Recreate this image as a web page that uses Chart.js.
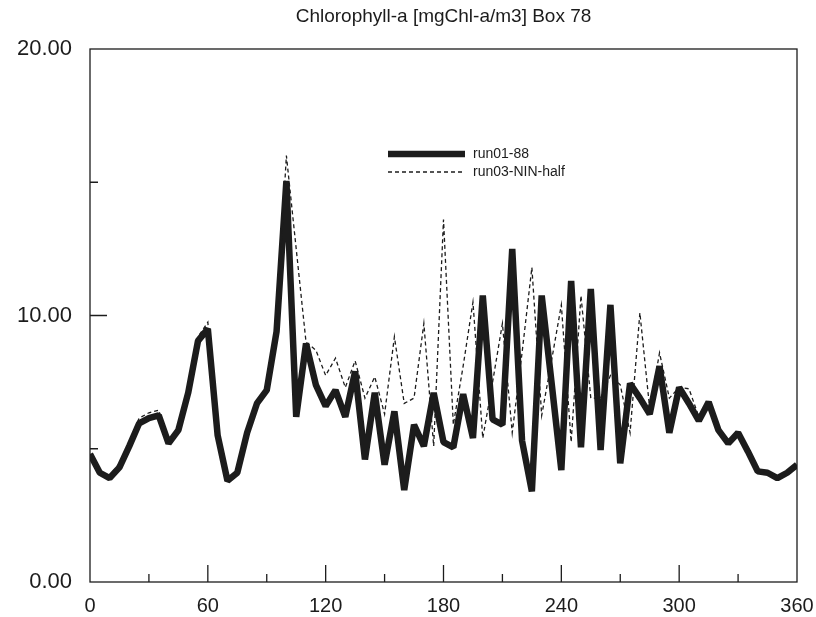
<!DOCTYPE html>
<html>
<head>
<meta charset="utf-8">
<title>Chlorophyll-a Box 78</title>
<script src="https://cdn.jsdelivr.net/npm/chart.js@4.4.1/dist/chart.umd.min.js"></script>
<style>
  html, body { margin: 0; padding: 0; background: #fff; }
  #wrap { width: 816px; height: 617px; }
</style>
</head>
<body>
<div id="wrap"><canvas id="chl"></canvas></div>
<script>
// day of year
var days = [0, 5, 10, 15, 20, 25, 30, 35, 40, 45, 50, 55, 60, 65, 70, 75, 80, 85, 90, 95,
  100, 105, 110, 115, 120, 125, 130, 135, 140, 145, 150, 155, 160, 165, 170, 175, 180, 185, 190, 195,
  200, 205, 210, 215, 220, 225, 230, 235, 240, 245, 250, 255, 260, 265, 270, 275, 280, 285, 290, 295,
  300, 305, 310, 315, 320, 325, 330, 335, 340, 345, 350, 355, 360];

var run01 = [4.8, 4.1, 3.9, 4.3, 5.1, 5.95, 6.15, 6.25, 5.2, 5.7, 7.1, 9.05, 9.5, 5.5, 3.8, 4.1, 5.6, 6.7, 7.2, 9.4,
  15.05, 6.2, 8.95, 7.4, 6.6, 7.2, 6.2, 7.9, 4.6, 7.1, 4.4, 6.4, 3.45, 5.9, 5.1, 7.1, 5.25, 5.05, 7.05, 5.4,
  10.75, 6.1, 5.9, 12.5, 5.3, 3.4, 10.75, 7.5, 4.2, 11.3, 5.05, 11.0, 4.95, 10.4, 4.45, 7.45, 6.9, 6.3, 8.1, 5.6,
  7.3, 6.7, 6.05, 6.75, 5.7, 5.2, 5.6, 4.9, 4.15, 4.1, 3.9, 4.1, 4.4];

var run03 = [4.8, 4.15, 4.0, 4.45, 5.25, 6.15, 6.35, 6.45, 5.2, 5.7, 7.1, 9.2, 9.75, 5.5, 3.8, 4.1, 5.6, 6.7, 7.2, 9.6,
  16.0, 12.5, 9.0, 8.7, 7.75, 8.4, 7.3, 8.3, 6.9, 7.7, 6.3, 9.2, 6.7, 6.9, 9.7, 5.1, 13.6, 5.9, 8.1, 10.5,
  5.4, 7.5, 9.7, 5.6, 8.6, 11.8, 6.25, 8.3, 10.4, 5.25, 10.75, 6.9, 6.9, 7.75, 7.4, 5.6, 10.1, 6.5, 8.6, 6.9,
  7.3, 7.25, 6.2, 6.75, 5.7, 5.2, 5.6, 4.9, 4.15, 4.1, 3.9, 4.1, 4.4];

var seriesNames = ['run01-88', 'run03-NIN-half'];
var xTicks = [0, 60, 120, 180, 240, 300, 360];
var xMinorTicks = [30, 90, 150, 210, 270, 330];
var yTicks = [0, 10, 20];
var yMinorTicks = [5, 15];
var chartTitle = 'Chlorophyll-a [mgChl-a/m3] Box 78';

var FONT = "'Liberation Sans', Arial, Helvetica, sans-serif";
var INK = '#1c1c1c';

function toPoints(ys) {
  var pts = [];
  for (var i = 0; i < days.length; i++) {
    pts.push({ x: days[i], y: ys[i] });
  }
  return pts;
}

// frame, inward ticks, title and legend drawn by hand
var framePlugin = {
  id: 'frame',
  afterDraw: function (chart) {
    var ctx = chart.ctx;
    var a = chart.chartArea;
    var xs = chart.scales.x;
    var ys = chart.scales.y;
    ctx.save();
    ctx.strokeStyle = INK;
    ctx.lineWidth = 1.3;
    ctx.strokeRect(a.left, a.top, a.right - a.left, a.bottom - a.top);

    ctx.beginPath();
    xTicks.forEach(function (v) {
      if (v === 0 || v === 360) return;
      var px = xs.getPixelForValue(v);
      ctx.moveTo(px, a.bottom);
      ctx.lineTo(px, a.bottom - 17);
    });
    xMinorTicks.forEach(function (v) {
      var px = xs.getPixelForValue(v);
      ctx.moveTo(px, a.bottom);
      ctx.lineTo(px, a.bottom - 8);
    });
    ctx.moveTo(a.left, ys.getPixelForValue(10));
    ctx.lineTo(a.left + 17, ys.getPixelForValue(10));
    yMinorTicks.forEach(function (v) {
      var py = ys.getPixelForValue(v);
      ctx.moveTo(a.left, py);
      ctx.lineTo(a.left + 8, py);
    });
    ctx.stroke();

    // title
    ctx.fillStyle = INK;
    ctx.font = '19px ' + FONT;
    ctx.textAlign = 'center';
    ctx.textBaseline = 'middle';
    ctx.fillText(chartTitle, (a.left + a.right) / 2, 17);

    // legend
    var lx = 388, lx2 = 465;
    ctx.lineCap = 'butt';
    ctx.beginPath();
    ctx.lineWidth = 6.5;
    ctx.moveTo(lx, 154);
    ctx.lineTo(lx2, 154);
    ctx.stroke();
    ctx.beginPath();
    ctx.lineWidth = 1.3;
    ctx.setLineDash([4, 3]);
    ctx.moveTo(lx, 172);
    ctx.lineTo(lx2, 172);
    ctx.stroke();
    ctx.setLineDash([]);
    ctx.font = '14px ' + FONT;
    ctx.textAlign = 'left';
    ctx.fillText(seriesNames[0], 473, 154);
    ctx.fillText(seriesNames[1], 473, 172);
    ctx.restore();
  }
};

var chart = new Chart(document.getElementById('chl'), {
  type: 'line',
  data: {
    datasets: [
      {
        label: seriesNames[1],
        data: toPoints(run03),
        borderColor: INK,
        borderWidth: 1.3,
        borderDash: [4, 3],
        pointRadius: 0,
        tension: 0,
        order: 0
      },
      {
        label: seriesNames[0],
        data: toPoints(run01),
        borderColor: INK,
        borderWidth: 6.5,
        borderJoinStyle: 'bevel',
        pointRadius: 0,
        tension: 0,
        order: 1
      }
    ]
  },
  plugins: [framePlugin],
  options: {
    responsive: true,
    maintainAspectRatio: false,
    animation: false,
    layout: { padding: { left: 0, top: 49, right: 0, bottom: 0 } },
    plugins: {
      legend: { display: false },
      title: { display: false },
      tooltip: { enabled: false }
    },
    scales: {
      x: {
        type: 'linear',
        min: 0,
        max: 360,
        afterFit: function (s) {
          s.height = 35;
          s.paddingLeft = 0;
          s.paddingRight = 19;
        },
        afterBuildTicks: function (s) {
          s.ticks = xTicks.map(function (v) { return { value: v }; });
        },
        grid: { display: false, drawTicks: false },
        border: { display: false },
        ticks: {
          color: INK,
          padding: 12,
          maxRotation: 0,
          font: { family: FONT, size: 20 }
        }
      },
      y: {
        min: 0,
        max: 20,
        afterFit: function (s) { s.width = 90; },
        afterBuildTicks: function (s) {
          s.ticks = yTicks.map(function (v) { return { value: v }; });
        },
        grid: { display: false, drawTicks: false },
        border: { display: false },
        ticks: {
          color: INK,
          padding: 18,
          font: { family: FONT, size: 22 },
          callback: function (v) { return Number(v).toFixed(2); }
        }
      }
    }
  }
});
</script>
</body>
</html>
